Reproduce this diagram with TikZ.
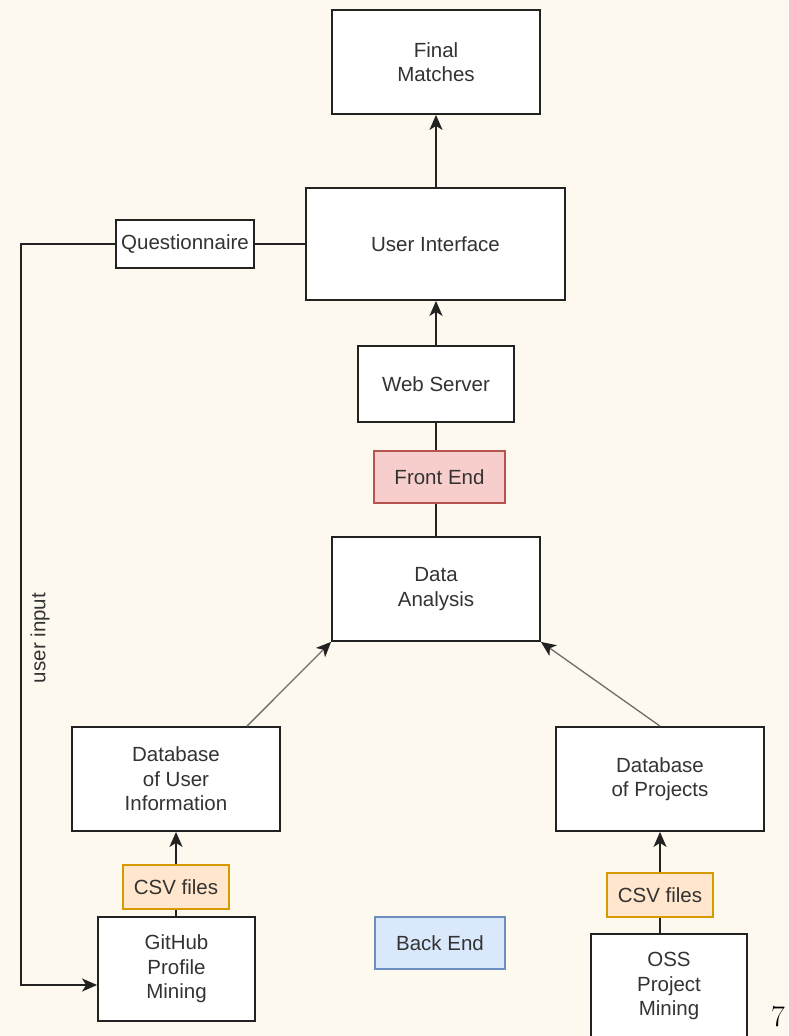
\documentclass[tikz,border=0pt]{standalone}
\usepackage{fontspec}
\setmainfont{Liberation Sans}
\newfontfamily\lmfont{Latin Modern Roman}
\usetikzlibrary{arrows.meta,calc}
\definecolor{bgc}{HTML}{FDF9EF}
\definecolor{edgec}{HTML}{222222}
\definecolor{txtc}{HTML}{333333}
\definecolor{redfill}{HTML}{F8CECC}
\definecolor{redline}{HTML}{B85450}
\definecolor{orfill}{HTML}{FFE6CC}
\definecolor{orline}{HTML}{D79B00}
\definecolor{bluefill}{HTML}{DAE8FC}
\definecolor{blueline}{HTML}{6C8EBF}
\definecolor{diagc}{HTML}{6E6E66}
\tikzset{
  box/.style={draw=edgec, line width=1.8pt, fill=white, text=txtc, align=center,
    inner sep=0pt, font=\fontsize{20.5}{24.5}\selectfont},
  redbox/.style={box, draw=redline, fill=redfill, line width=1.3pt},
  orbox/.style={box, draw=orline, fill=orfill, line width=1.3pt},
  bluebox/.style={box, draw=blueline, fill=bluefill, line width=1.3pt},
  conn/.style={draw=edgec, line width=1.8pt},
  arr/.style={conn, -{Stealth[length=15pt,width=13pt,inset=4pt]}},
  diag/.style={draw=diagc, line width=1.3pt, -{Stealth[length=15pt,width=13pt,inset=4pt,color=edgec]}},
}
\begin{document}
\begin{tikzpicture}[x=1pt,y=-1pt]
\useasboundingbox (0,0) rectangle (788,1036);
\fill[bgc] (0,0) rectangle (788,1036);
\clip (0,0) rectangle (788,1036);

\node[box, minimum width=208pt, minimum height=104pt] (fm) at (436,62) {Final\\Matches};
\node[box, minimum width=259pt, minimum height=112pt] (ui) at (435.5,244) {User Interface};
\node[box, minimum width=138pt, minimum height=48pt] (q) at (185,244) {Questionnaire};
\node[box, minimum width=156pt, minimum height=76pt] (ws) at (436,384) {Web Server};
\node[redbox, minimum width=131pt, minimum height=52pt] (fe) at (439.5,477) {Front End};
\node[box, minimum width=208pt, minimum height=104pt] (da) at (436,589) {Data\\Analysis};
\node[box, minimum width=208pt, minimum height=104pt] (dbu) at (176,779) {Database\\of User\\Information};
\node[box, minimum width=208pt, minimum height=104pt] (dbp) at (660,779) {Database\\of Projects};
\node[orbox, minimum width=106pt, minimum height=44pt] (csvl) at (176,887) {CSV files};
\node[box, minimum width=157pt, minimum height=104pt] (gh) at (176.5,969) {GitHub\\Profile\\Mining};
\node[bluebox, minimum width=130pt, minimum height=52pt] (be) at (440,943) {Back End};
\node[orbox, minimum width=106pt, minimum height=44pt] (csvr) at (660,895) {CSV files};
\node[box, minimum width=156pt, minimum height=104pt] (oss) at (669,986) {OSS\\Project\\Mining};

\node[font=\fontsize{20.5}{24.5}\selectfont, text=txtc, rotate=90, inner sep=0pt] (ulab) at (40,638) {user input};
\node[font=\lmfont\fontsize{30}{34}\selectfont, inner sep=0pt] (pg) at (778,1017) {7};

\coordinate (qc1) at (21,244);
\coordinate (qc2) at (21,985);

% vertical chain
\draw[arr] (ui.north -| fm.south) -- (fm.south);
\draw[arr] (ws.north) -- (ws.north |- ui.south);
\draw[conn] (ws.south) -- (ws.south |- fe.north);
\draw[conn] (ws.south |- fe.south) -- (da.north);

% diagonals
\draw[diag] ($(dbu.north)+(71,0)$) -- (da.south west);
\draw[diag] (dbp.north) -- (da.south east);

% left column
\draw[arr] (csvl.north) -- (csvl.north |- dbu.south);
\draw[conn] (gh.north -| csvl.south) -- (csvl.south);

% right column
\draw[arr] (csvr.north) -- (csvr.north |- dbp.south);
\draw[conn] (oss.north -| csvr.south) -- (csvr.south);

% questionnaire feedback
\draw[conn] (ui.west |- q.east) -- (q.east);
\draw[arr] (q.west) -- (qc1) -- (qc2) -- (qc2 -| gh.west);
\end{tikzpicture}
\end{document}
